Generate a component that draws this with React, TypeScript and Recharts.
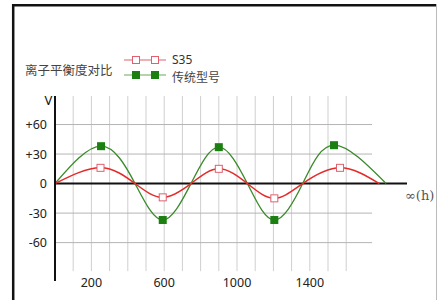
import React from 'react';
import { LineChart, Line, XAxis, YAxis, ReferenceLine } from 'recharts';

// Data
const s35Hours = [0, 250, 440, 592, 747, 900, 1057, 1205, 1361, 1566, 1782];
const s35Values = [0, 16, 0, -14, 0, 15, 0, -15, 0, 16, 0];
const tradHours = [0, 253, 440, 592, 747, 900, 1057, 1205, 1361, 1533, 1819];
const tradValues = [0, 38, 0, -37, 0, 37, 0, -37, 0, 39, 0];

const xTicks = [200, 600, 1000, 1400];
const yTicks = [60, 30, 0, -30, -60];
const yTickLabels = ['+60', '+30', '0', '-30', '-60'];
const xGrid = [100, 200, 300, 400, 500, 600, 700, 800, 900, 1000, 1100, 1200, 1300, 1400, 1500, 1600];
const yGrid = [60, 30, -30, -60];

const title = '离子平衡度对比';
const seriesNames = ['S35', '传统型号'];
const yUnit = 'V';
const xUnit = '∞(h)';

const s35Data = s35Hours.map((h, i) => ({ h, v: s35Values[i] }));
const tradData = tradHours.map((h, i) => ({ h, v: tradValues[i] }));

const X_MAX = 1934;
const GRID_H_END = 1742;
const Y_MIN = -99;
const Y_MAX = 89;
const VGRID_BOTTOM = -89;

const RED = '#e52a2a';
const RED_MARK = '#e0606e';
const GREEN = '#3a8a2a';
const GREEN_MARK = '#1c7f12';

const sans = '"Noto Sans", "Noto Sans CJK SC", sans-serif';
const cjk = '"Noto Sans CJK SC", "Noto Sans", sans-serif';

const RedDot = (props: any) => {
  const { cx, cy, payload, index } = props;
  if (!payload || payload.v === 0) return <g key={'rd' + index} />;
  return <rect key={'rd' + index} x={cx - 3.5} y={cy - 3.5} width={7} height={7} fill="#fff" stroke={RED_MARK} strokeWidth={1} />;
};
const GreenDot = (props: any) => {
  const { cx, cy, payload, index } = props;
  if (!payload || payload.v === 0) return <g key={'gd' + index} />;
  return <rect key={'gd' + index} x={cx - 4} y={cy - 4} width={8} height={8} fill={GREEN_MARK} />;
};

const YTick = (props: any) => {
  const { y, payload } = props;
  const idx = yTicks.indexOf(payload.value);
  return (
    <text x={47} y={y} textAnchor="end" dominantBaseline="central" fontSize={12.5} fill="#222" fontFamily={sans}>
      {yTickLabels[idx]}
    </text>
  );
};
const XTick = (props: any) => {
  const { x, payload } = props;
  return (
    <text x={x} y={282} textAnchor="middle" dominantBaseline="central" fontSize={12.5} fill="#222" fontFamily={sans}>
      {payload.value}
    </text>
  );
};

export default function App() {
  return (
    <div style={{ position: 'absolute', left: 0, top: 0, width: 438, height: 300, background: '#fff' }}>
      <LineChart width={438} height={300} margin={{ top: 96, right: 31, bottom: 0, left: 0 }}>
        <XAxis
          dataKey="h"
          type="number"
          domain={[0, X_MAX]}
          ticks={xTicks}
          allowDataOverflow
          axisLine={false}
          tickLine={false}
          height={19}
          tick={<XTick />}
        />
        <YAxis
          type="number"
          domain={[Y_MIN, Y_MAX]}
          ticks={yTicks}
          allowDataOverflow
          width={55}
          axisLine={{ stroke: '#111', strokeWidth: 2 }}
          tickLine={false}
          tick={<YTick />}
        />
        {xGrid.map((g) => (
          <ReferenceLine key={'vx' + g} segment={[{ x: g, y: VGRID_BOTTOM }, { x: g, y: Y_MAX }]} stroke="#cfcfcf" strokeWidth={1} ifOverflow="visible" />
        ))}
        {yGrid.map((g) => (
          <ReferenceLine key={'hy' + g} segment={[{ x: 0, y: g }, { x: GRID_H_END, y: g }]} stroke="#b4b4b4" strokeWidth={1} ifOverflow="visible" />
        ))}
        <ReferenceLine segment={[{ x: 0, y: 0 }, { x: X_MAX, y: 0 }]} stroke="#111" strokeWidth={2} ifOverflow="visible" />
        <Line data={tradData} dataKey="v" type="natural" stroke={GREEN} strokeWidth={1.3} dot={<GreenDot />} activeDot={false} isAnimationActive={false} />
        <Line data={s35Data} dataKey="v" type="natural" stroke={RED} strokeWidth={1.5} dot={<RedDot />} activeDot={false} isAnimationActive={false} />
      </LineChart>
      <svg width={438} height={300} style={{ position: 'absolute', left: 0, top: 0, pointerEvents: 'none' }}>
        <line x1={13.2} y1={4} x2={13.2} y2={300} stroke="#111" strokeWidth={2.5} />
        <line x1={12} y1={5.2} x2={437} y2={5.2} stroke="#111" strokeWidth={2.5} />
        <line x1={436.5} y1={4} x2={436.5} y2={300} stroke="#bbb" strokeWidth={1} />
        <text x={25} y={69} dominantBaseline="central" fontSize={12.5} fill="#444" fontFamily={cjk}>{title}</text>
        <line x1={124} y1={60} x2={166} y2={60} stroke={RED_MARK} strokeWidth={1} />
        <rect x={132.5} y={56.5} width={7} height={7} fill="#fff" stroke={RED_MARK} strokeWidth={1} />
        <rect x={151.5} y={56.5} width={7} height={7} fill="#fff" stroke={RED_MARK} strokeWidth={1} />
        <text x={172} y={59.5} dominantBaseline="central" fontSize={12} fill="#333" fontFamily={sans}>{seriesNames[0]}</text>
        <line x1={124} y1={75} x2={166} y2={75} stroke="#6aa85a" strokeWidth={1} />
        <rect x={132} y={71} width={8} height={8} fill={GREEN_MARK} />
        <rect x={151} y={71} width={8} height={8} fill={GREEN_MARK} />
        <text x={172} y={76} dominantBaseline="central" fontSize={12} fill="#444" fontFamily={cjk}>{seriesNames[1]}</text>
        <text x={48.5} y={99.5} textAnchor="middle" dominantBaseline="central" fontSize={13} fill="#111" fontFamily={sans}>{yUnit}</text>
        <text x={405} y={195} dominantBaseline="central" fontSize={13} fill="#555" fontFamily={'"DejaVu Serif", "Liberation Serif", serif'}>{xUnit}</text>
      </svg>
    </div>
  );
}
